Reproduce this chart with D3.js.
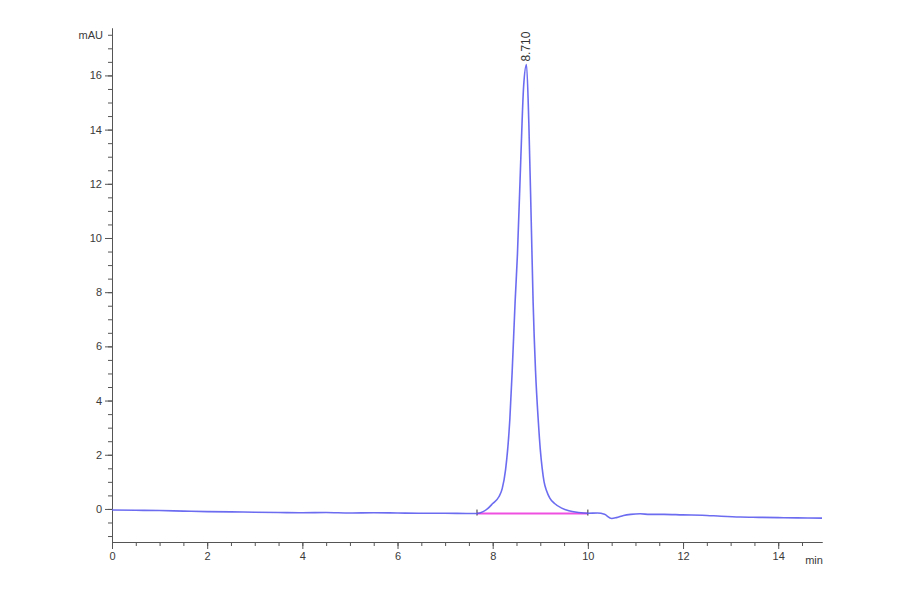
<!DOCTYPE html>
<html>
<head>
<meta charset="utf-8">
<script src="https://cdn.jsdelivr.net/npm/d3@7"></script>
<style>
  body { margin: 0; background: #fff; }
  svg text { font-family: "Liberation Sans", Arial, sans-serif; }
</style>
</head>
<body>
<div id="chart"></div>
<script>
// retention time (min) and absorbance (mAU)
const times = [0, 0.5, 1, 1.5, 2, 2.5, 3, 3.5, 4, 4.5, 5, 5.5, 6, 6.5, 7, 7.5, 7.67,
  7.8, 7.9, 8.0, 8.13, 8.2, 8.27, 8.36, 8.41, 8.47, 8.52, 8.59, 8.65, 8.71,
  8.76, 8.81, 8.85, 8.9, 8.96, 9.0, 9.04, 9.08, 9.13, 9.2, 9.3, 9.45, 9.6, 9.8, 10.0,
  10.2, 10.35, 10.5, 10.6, 10.75, 10.9, 11.1, 11.3, 11.6, 12.0, 12.4, 12.8, 13.2, 13.6, 14.0, 14.4, 14.92];
const absorbance = [-0.04, -0.05, -0.06, -0.08, -0.1, -0.11, -0.12, -0.13, -0.14, -0.13, -0.15, -0.14, -0.15, -0.16, -0.16, -0.17, -0.17,
  -0.1, 0.02, 0.2, 0.45, 0.75, 1.44, 3.3, 5.1, 7.6, 9.4, 12.9, 15.6, 16.4,
  14.2, 10.6, 7.6, 5.1, 3.2, 2.2, 1.5, 1.0, 0.68, 0.4, 0.2, 0.03, -0.07, -0.13, -0.16,
  -0.15, -0.2, -0.35, -0.32, -0.24, -0.2, -0.18, -0.2, -0.2, -0.22, -0.23, -0.27, -0.3, -0.31, -0.32, -0.33, -0.34];

// integration baseline of the peak
const baselineTimes = [7.67, 10.0];
const baselineValues = [-0.17, -0.17];

const peakTime = 8.71;
const peakHeight = 16.4;
const peakLabel = "8.710";

const xMajor = [0, 2, 4, 6, 8, 10, 12, 14];
const yMajor = [0, 2, 4, 6, 8, 10, 12, 14, 16];

const width = 900, height = 594;

const svg = d3.select('#chart').append('svg')
    .attr('width', width)
    .attr('height', height);

const x = d3.scaleLinear().domain([0, 14.92]).range([112, 822]);
const y = d3.scaleLinear().domain([-1.22, 17.75]).range([542, 28]);

const axisColor = '#555';
const labelColor = '#3a3a3a';

// x axis: minor then major ticks
const xMinor = d3.range(0, 14.92, 0.5);
svg.append('g')
    .attr('transform', `translate(0,${y.range()[0]})`)
    .call(d3.axisBottom(x).tickValues(xMinor).tickSize(4).tickFormat('').tickSizeOuter(0))
    .call(g => g.selectAll('line, path').attr('stroke', axisColor));

svg.append('g')
    .attr('transform', `translate(0,${y.range()[0]})`)
    .call(d3.axisBottom(x).tickValues(xMajor).tickSize(7).tickPadding(3).tickSizeOuter(0))
    .call(g => g.select('.domain').attr('stroke', axisColor))
    .call(g => g.selectAll('line').attr('stroke', axisColor))
    .call(g => g.selectAll('text').attr('fill', labelColor).style('font-size', '11px'));

svg.append('text')
    .attr('x', 814)
    .attr('y', 564)
    .attr('text-anchor', 'middle')
    .attr('fill', labelColor)
    .style('font-size', '11px')
    .text('min');

// y axis
const yMinor = d3.range(-1, 17.6, 0.5);
svg.append('g')
    .attr('transform', `translate(${x.range()[0]},0)`)
    .call(d3.axisLeft(y).tickValues(yMinor).tickSize(4).tickFormat('').tickSizeOuter(0))
    .call(g => g.selectAll('line, path').attr('stroke', axisColor));

svg.append('g')
    .attr('transform', `translate(${x.range()[0]},0)`)
    .call(d3.axisLeft(y).tickValues(yMajor).tickSize(7).tickPadding(3).tickSizeOuter(0))
    .call(g => g.select('.domain').attr('stroke', axisColor))
    .call(g => g.selectAll('line').attr('stroke', axisColor))
    .call(g => g.selectAll('text').attr('fill', labelColor).style('font-size', '11px'));

svg.append('text')
    .attr('x', 103)
    .attr('y', y(17.5) + 4)
    .attr('text-anchor', 'end')
    .attr('fill', labelColor)
    .style('font-size', '11px')
    .text('mAU');

// integration baseline
const line = d3.line()
    .x(d => x(d[0]))
    .y(d => y(d[1]));

svg.append('path')
    .datum(d3.zip(baselineTimes, baselineValues))
    .attr('fill', 'none')
    .attr('stroke', '#f050e0')
    .attr('stroke-width', 2)
    .attr('d', line);

// peak start / end marks
svg.selectAll('.mark')
    .data(baselineTimes)
    .enter().append('line')
    .attr('class', 'mark')
    .attr('x1', d => x(d))
    .attr('x2', d => x(d))
    .attr('y1', (d, i) => y(baselineValues[i]) - 4)
    .attr('y2', (d, i) => y(baselineValues[i]) + 2)
    .attr('stroke', '#333')
    .attr('stroke-width', 1);

// chromatogram trace
svg.append('path')
    .datum(d3.zip(times, absorbance))
    .attr('fill', 'none')
    .attr('stroke', '#5c5cf0')
    .attr('stroke-opacity', 0.9)
    .attr('stroke-width', 1.6)
    .attr('d', line.curve(d3.curveMonotoneX));

// retention time label
svg.append('text')
    .attr('transform', `translate(${x(peakTime) + 4},${y(peakHeight) - 3}) rotate(-90)`)
    .attr('fill', '#333')
    .style('font-size', '12px')
    .text(peakLabel);
</script>
</body>
</html>
